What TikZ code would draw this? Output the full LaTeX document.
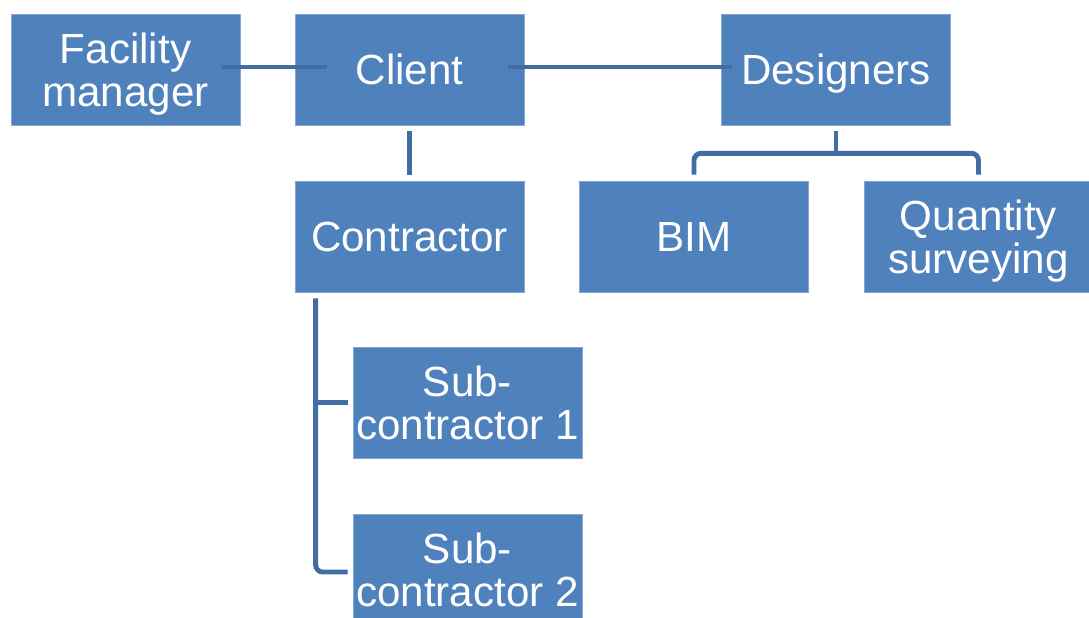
\documentclass[tikz,border=0pt]{standalone}
\usepackage{fontspec}
\setmainfont{Liberation Sans}
\usepackage{tikz}
\usetikzlibrary{calc,positioning}
\definecolor{orgblue}{RGB}{79,129,189}
\definecolor{orglink}{RGB}{66,108,164}

\begin{document}
\begin{tikzpicture}[x=.02cm,y=-.02cm,line cap=butt,
  unit/.style={fill=orgblue,draw=orgblue!70!white,line width=.4pt,
   minimum width=4.58cm,minimum height=2.22cm,inner sep=0pt,text depth=0pt,
   text=white,align=center,font=\fontsize{24}{24.5}\selectfont},
  link/.style={orglink,line width=2.8pt}]
 \useasboundingbox (0,0) rectangle (1089,618);
 % top row
 \node[unit] (fm) at (125.5,69.5) {Facility\\manager};
 \node[unit] (client) at (409.5,69.5) {Client};
 \node[unit] (designers) at (836,69.5) {Designers};
 % second row
 \node[unit] (contractor) at (409.5,236.5) {Contractor};
 \node[unit] (bim) at (694,236.5) {BIM};
 \node[unit] (qs) at (978.5,236.5) {Quantity\\surveying};
 % sub-contractors
 \node[unit] (sub1) at (467.5,402.5) {Sub-\\contractor 1};
 \node[unit] (sub2) at (467.5,569.5) {Sub-\\contractor 2};

 \draw[link] ($(fm.east)+(-18,-2.5)$) -- ($(client.west)+(32,-2.5)$);
 \draw[link] ($(client.east)+(-16,-2.5)$) -- ($(designers.west)+(11,-2.5)$);
 \draw[link] ($(client.south)+(0,6)$) -- ($(contractor.north)+(0,-6)$);

 \coordinate (dj) at ($(designers.south)+(0,28)$);
 \draw[link] ($(designers.south)+(0,6)$) -- (dj);
 \draw[link,rounded corners=4] ($(bim.north)+(0,-6)$) |- (dj)
   -| ($(qs.north)+(0,-6)$);

 \coordinate (cj) at ($(contractor.south west)+(21,6)$);
 \draw[link,rounded corners=4] (cj) |- ($(sub2.west)+(-5,2.5)$);
 \draw[link] (cj |- sub1.west) -- ($(sub1.west)+(-5,0)$);
\end{tikzpicture}
\end{document}
